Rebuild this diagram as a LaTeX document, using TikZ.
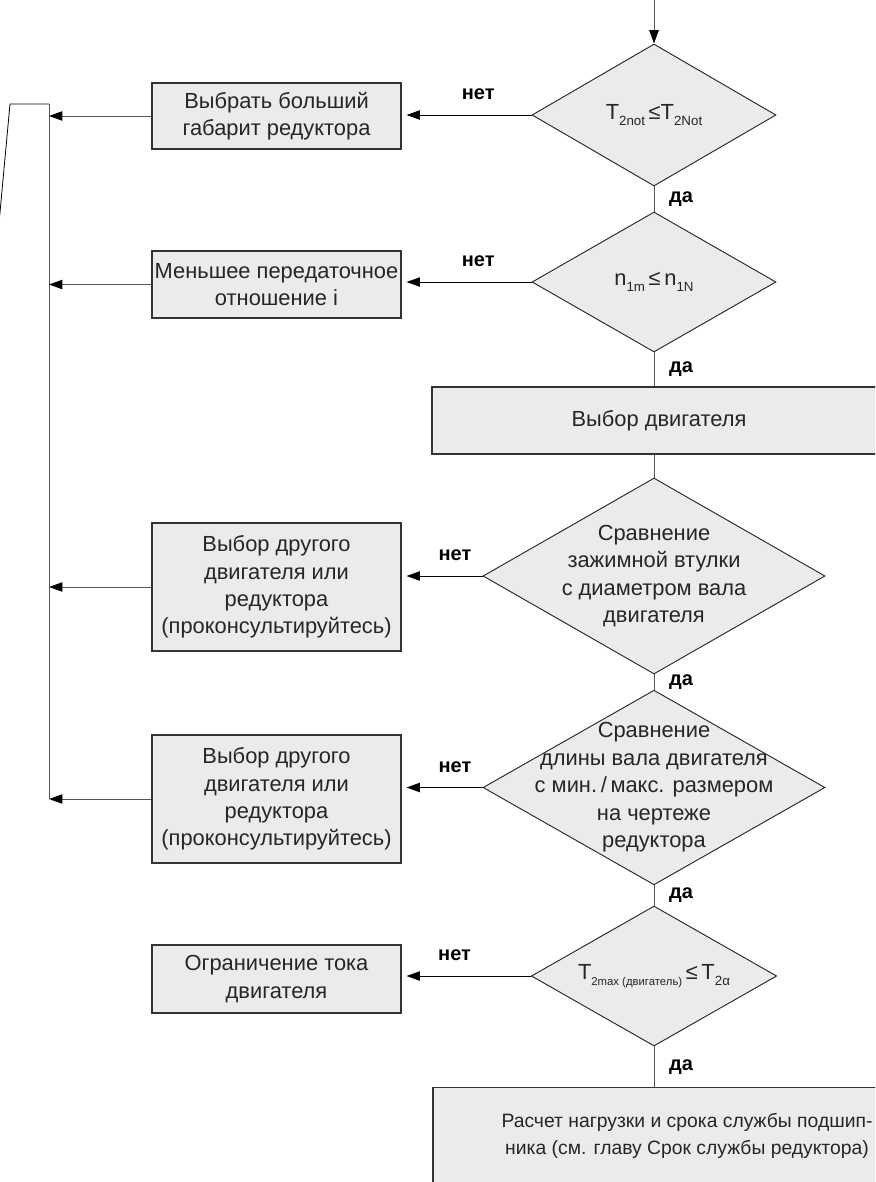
\documentclass[tikz,border=0pt]{standalone}
\usepackage{fontspec}
\setmainfont{Liberation Sans}
\usepackage{xcolor}
\usetikzlibrary{arrows.meta,positioning,shapes.geometric,calc}
\definecolor{boxfill}{HTML}{EBEBEB}
\definecolor{linegray}{HTML}{555555}
\newcommand{\lowidx}[1]{\raisebox{-4.5pt}{\fontsize{10}{10}\selectfont #1}}
\newcommand{\tinyidx}[1]{\raisebox{-4.5pt}{\fontsize{8.5}{9}\selectfont #1}}

\begin{document}
\begin{tikzpicture}[x=0.75pt,y=-0.75pt,>={Triangle[length=10pt,width=7pt,color=black]},
  font=\fontsize{16.4}{20.6}\selectfont,
  procbox/.style={draw=black!80,line width=0.8pt,fill=boxfill,align=center,inner sep=0pt,text=black!85},
  decision/.style={diamond,draw=black!85,line width=0.7pt,fill=boxfill,inner sep=0pt},
  dtext/.style={align=center,text=black!85,inner sep=0pt},
  flow/.style={draw=linegray,line width=0.75pt},
  noarrow/.style={draw=black,line width=0.75pt,->,shorten >=3.75pt},
  yes/.style={right=11pt,inner sep=0pt,font=\fontsize{15}{18}\selectfont\bfseries},
  no/.style={above=11pt,inner sep=0pt,font=\fontsize{15}{18}\selectfont\bfseries}]
\useasboundingbox (0,0) rectangle (875,1182);
\clip (0,0) rectangle (875,1182);

% decisions
\node[decision,minimum width=183pt,minimum height=106.5pt,
  label={[dtext]center:T\lowidx{2not}\,≤T\lowidx{2Not}}] (d1) at (654,115) {};
\node[decision,minimum width=183pt,minimum height=105pt,
  label={[dtext]center:n\lowidx{1m}\,≤\,n\lowidx{1N}}] (d2) at (654,282) {};
\node[procbox,minimum width=340.5pt,minimum height=50.25pt] (motor) at (659,420.5) {Выбор двигателя};
\node[decision,minimum width=256.5pt,minimum height=147pt,
  label={[dtext]center:Сравнение\\зажимной втулки\\с диаметром вала\\двигателя}] (d3) at (654,576) {};
\node[decision,minimum width=256.5pt,minimum height=146pt,
  label={[dtext]center:Сравнение\\длины вала двигателя\\с мин.\,/\,макс. размером\\на чертеже\\редуктора}] (d4) at (654,787.5) {};
\node[decision,minimum width=184pt,minimum height=105pt,
  label={[dtext]center:T\tinyidx{2max (двигатель)}\,≤\,T\lowidx{2α}}] (d5) at (654,976) {};
\node[procbox,anchor=north,minimum width=381pt,inner ysep=19pt,text depth=45pt,
  font=\fontsize{14.5}{20.6}\selectfont] (calc) at (687,1087)
  {Расчет нагрузки и срока службы подшип-\\ника (см. главу Срок службы редуктора)};

% alternatives
\node[procbox,minimum width=186.75pt,minimum height=49.5pt] (b1) at (276.5,116) {Выбрать больший\\габарит редуктора};
\node[procbox,minimum width=186.75pt,minimum height=50.25pt] (b2) at (276.5,284.5) {Меньшее передаточное\\отношение i};
\node[procbox,minimum width=186.75pt,minimum height=96pt] (b3) at (276.5,587) {Выбор другого\\двигателя или\\редуктора\\(проконсультируйтесь)};
\node[procbox,minimum width=186.75pt,minimum height=96pt] (b4) at (276.5,799) {Выбор другого\\двигателя или\\редуктора\\(проконсультируйтесь)};
\node[procbox,minimum width=186.75pt,minimum height=51pt] (b5) at (276.5,979) {Ограничение тока\\двигателя};

% main flow
\coordinate (entry) at (654,0);
\draw[flow,->] (entry) -- (d1.north);
\draw[flow] (d1.south) -- node[yes] {да} (d2.north);
\draw[flow] (d2.south) -- node[yes] {да} (d2.south |- motor.north);
\draw[flow] (d2.south |- motor.south) -- (d3.north);
\draw[flow] (d3.south) -- node[yes] {да} (d4.north);
\draw[flow] (d4.south) -- node[yes] {да} (d5.north);
\draw[flow] (d5.south) -- node[yes] {да} (d5.south |- calc.north);

% "no" branches
\draw[noarrow] (d1.west) -- node[no,pos=0.41] {нет} (d1.west -| b1.east);
\draw[noarrow] (d2.west) -- node[no,pos=0.41] {нет} (d2.west -| b2.east);
\draw[noarrow] (d3.west) -- node[no,pos=0.34] {нет} (d3.west -| b3.east);
\draw[noarrow] (d4.west) -- node[no,pos=0.34] {нет} (d4.west -| b4.east);
\draw[noarrow] (d5.west) -- node[no,pos=0.59] {нет} (d5.west -| b5.east);

% return bus
\coordinate (bustop) at (49,104);
\coordinate (busbend) at (10,104);
\coordinate (busend) at (-2,234);
\draw[black,line width=0.6pt] (busend) -- (busbend) -- (bustop);
\draw[flow] (bustop) -- (bustop |- b4.west);
\foreach \b in {b1,b2,b3,b4}
  \draw[flow,->] (\b.west) -- (\b.west -| bustop);
\end{tikzpicture}
\end{document}
